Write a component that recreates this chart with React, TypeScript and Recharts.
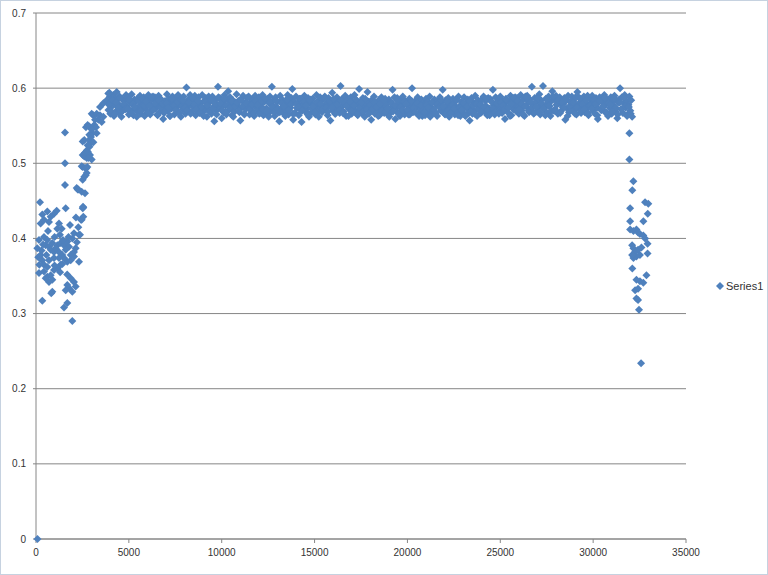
import { ScatterChart, Scatter, XAxis, YAxis, CartesianGrid, Legend } from 'recharts';

// values, [x, y]
const originPoint = [[80, 0]];

const lowCluster = [
  [215, .448], [1598, .440], [340, .432], [610, .436], [970, .433], [1113, .437], [790, .429],
  [250, .420], [700, .422], [1238, .420], [1830, .418], [2046, .407], [2316, .405], [1956, .400],
  [646, .410], [1148, .413], [160, .398], [72, .387], [431, .402], [610, .398], [520, .391],
  [700, .389], [880, .394], [790, .385], [969, .382], [1149, .391], [1328, .394], [1508, .391],
  [1687, .396], [1777, .389], [1598, .385], [1238, .382], [1059, .387], [1418, .378], [1867, .378],
  [2046, .382], [2136, .387], [251, .378], [341, .371], [431, .365], [700, .371], [610, .362],
  [969, .374], [1238, .374], [1508, .374], [1687, .369], [1867, .371], [2316, .369], [2046, .376],
  [162, .354], [431, .356], [610, .349], [790, .351], [969, .358], [1149, .360], [1328, .365],
  [880, .345], [700, .342], [520, .347], [1867, .347], [2046, .342], [1687, .338], [1777, .334],
  [2136, .336], [1598, .331], [1956, .329], [880, .329], [820, .327], [341, .317], [1687, .314],
  [1508, .308], [1956, .290], [1562, .471], [1562, .500], [1562, .541], [1382, .413], [1290, .405],
  [430, .425], [1450, .398], [1000, .402], [380, .392], [300, .384], [120, .375], [180, .365],
  [560, .378], [1680, .352], [1300, .355], [1000, .364], [1420, .366], [2200, .395], [2280, .415],
  [2150, .428], [1750, .402],
];

const riseSegment = [
  [2190, .467], [2280, .465], [2459, .462], [2639, .460], [2513, .440], [2549, .429], [2530, .442],
  [2370, .405], [2420, .425], [2548, .441], [2459, .425], [2244, .465], [2513, .478], [2600, .482],
  [2680, .484], [2728, .487], [2460, .496], [2513, .495], [2640, .494], [2700, .493], [2600, .509],
  [2513, .511], [2728, .507], [2800, .509], [2870, .511], [2640, .514], [2728, .517], [2800, .515],
  [2513, .529], [2600, .531], [2870, .531], [2960, .527], [2780, .524], [2870, .538], [2960, .535],
  [3050, .540], [2690, .548], [2780, .551], [2870, .549], [3050, .547], [3140, .551], [3230, .548],
  [2998, .566], [3088, .564], [3267, .566], [3446, .564], [3626, .562], [3357, .558], [3536, .555],
  [3446, .575], [3626, .580], [3806, .584], [3985, .589], [3895, .593], [4165, .591], [4344, .595],
  [3180, .558], [3000, .545], [3267, .540], [2880, .522], [3088, .528], [2765, .495], [3000, .505],
  [2908, .511], [2818, .507],
];

const plateauA = [
  [3900, .571], [3950, .594], [4000, .566], [4050, .583], [4100, .576], [4150, .588], [4200, .563], [4250, .579], [4300, .569], [4350, .585],
  [4400, .580], [4450, .567], [4500, .589], [4550, .574], [4600, .562], [4650, .586], [4700, .571], [4750, .583], [4800, .577], [4850, .591],
  [4900, .575], [4950, .588], [5000, .565], [5050, .581], [5100, .570], [5150, .592], [5200, .578], [5250, .564], [5300, .585], [5350, .573],
  [5400, .583], [5450, .569], [5500, .587], [5550, .576], [5600, .590], [5650, .566], [5700, .580], [5750, .572], [5800, .588], [5850, .563],
  [5900, .574], [5950, .586], [6000, .568], [6050, .591], [6100, .579], [6150, .565], [6200, .584], [6250, .571], [6300, .589], [6350, .577],
  [6400, .588], [6450, .573], [6500, .582], [6550, .564], [6600, .590], [6650, .577], [6700, .569], [6750, .585], [6800, .575], [6850, .559],
  [6900, .567], [6950, .583], [7000, .576], [7050, .592], [7100, .570], [7150, .586], [7200, .563], [7250, .580], [7300, .573], [7350, .589],
  [7400, .581], [7450, .565], [7500, .587], [7550, .574], [7600, .568], [7650, .591], [7700, .578], [7750, .584], [7800, .562], [7850, .576],
  [7900, .572], [7950, .589], [8000, .580], [8050, .566], [8100, .601], [8150, .575], [8200, .585], [8250, .569], [8300, .591], [8350, .577],
  [8400, .585], [8450, .570], [8500, .578], [8550, .590], [8600, .564], [8650, .582], [8700, .574], [8750, .588], [8800, .567], [8850, .580],
  [8900, .576], [8950, .591], [9000, .568], [9050, .583], [9100, .573], [9150, .587], [9200, .562], [9250, .579], [9300, .589], [9350, .571],
  [9400, .583], [9450, .566], [9500, .589], [9550, .575], [9600, .556], [9650, .584], [9700, .570], [9750, .578], [9800, .602], [9850, .573],
  [9900, .587], [9950, .574], [10000, .560], [10050, .582], [10100, .568], [10150, .591], [10200, .577], [10250, .565], [10300, .585], [10350, .596],
  [10400, .571], [10450, .588], [10500, .579], [10550, .564], [10600, .584], [10650, .573], [10700, .569], [10750, .581], [10800, .592], [10850, .577],
];

const plateauB = [
  [10900, .583], [10950, .568], [11000, .557], [11050, .586], [11100, .575], [11150, .590], [11200, .566], [11250, .580], [11300, .572], [11350, .587],
  [11400, .576], [11450, .589], [11500, .565], [11550, .581], [11600, .570], [11650, .585], [11700, .578], [11750, .563], [11800, .590], [11850, .574],
  [11900, .584], [11950, .571], [12000, .588], [12050, .567], [12100, .579], [12150, .575], [12200, .591], [12250, .564], [12300, .582], [12350, .569],
  [12400, .573], [12450, .586], [12500, .566], [12550, .580], [12600, .589], [12650, .570], [12700, .602], [12750, .577], [12800, .584], [12850, .563],
  [12900, .588], [12950, .575], [13000, .582], [13050, .568], [13100, .556], [13150, .590], [13200, .572], [13250, .585], [13300, .579], [13350, .566],
  [13400, .570], [13450, .584], [13500, .577], [13550, .591], [13600, .565], [13650, .581], [13700, .574], [13750, .587], [13800, .599], [13850, .558],
  [13900, .582], [13950, .567], [14000, .589], [14050, .574], [14100, .580], [14150, .564], [14200, .586], [14250, .571], [14300, .555], [14350, .578],
  [14400, .577], [14450, .590], [14500, .569], [14550, .583], [14600, .573], [14650, .587], [14700, .562], [14750, .580], [14800, .585], [14850, .568],
  [14900, .586], [14950, .572], [15000, .579], [15050, .565], [15100, .591], [15150, .576], [15200, .583], [15250, .570], [15300, .588], [15350, .574],
  [15400, .568], [15450, .585], [15500, .575], [15550, .589], [15600, .571], [15650, .580], [15700, .564], [15750, .587], [15800, .578], [15850, .557],
  [15900, .581], [15950, .594], [16000, .570], [16050, .584], [16100, .566], [16150, .578], [16200, .588], [16250, .573], [16300, .582], [16350, .567],
  [16400, .603], [16450, .575], [16500, .586], [16550, .569], [16600, .580], [16650, .590], [16700, .563], [16750, .577], [16800, .585], [16850, .572],
  [16900, .574], [16950, .588], [17000, .566], [17050, .581], [17100, .576], [17150, .591], [17200, .570], [17250, .584], [17300, .565], [17350, .579],
  [17400, .599], [17450, .571], [17500, .583], [17550, .567], [17600, .587], [17650, .575], [17700, .562], [17750, .580], [17800, .573], [17850, .595],
];

const plateauC = [
  [17900, .582], [17950, .569], [18000, .577], [18050, .558], [18100, .585], [18150, .572], [18200, .589], [18250, .566], [18300, .580], [18350, .575],
  [18400, .570], [18450, .584], [18500, .564], [18550, .578], [18600, .588], [18650, .573], [18700, .581], [18750, .567], [18800, .586], [18850, .576],
  [18900, .579], [18950, .566], [19000, .585], [19050, .572], [19100, .582], [19150, .569], [19200, .598], [19250, .576], [19300, .588], [19350, .559],
  [19400, .574], [19450, .587], [19500, .567], [19550, .580], [19600, .563], [19650, .584], [19700, .571], [19750, .589], [19800, .577], [19850, .565],
  [19900, .583], [19950, .570], [20000, .578], [20050, .565], [20100, .586], [20150, .573], [20200, .581], [20250, .600], [20300, .568], [20350, .576],
  [20400, .569], [20450, .584], [20500, .575], [20550, .588], [20600, .566], [20650, .579], [20700, .572], [20750, .585], [20800, .563], [20850, .581],
  [20900, .577], [20950, .564], [21000, .586], [21050, .571], [21100, .582], [21150, .568], [21200, .589], [21250, .574], [21300, .580], [21350, .566],
  [21400, .572], [21450, .585], [21500, .568], [21550, .579], [21600, .563], [21650, .583], [21700, .576], [21750, .588], [21800, .570], [21850, .581],
  [21900, .598], [21950, .573], [22000, .566], [22050, .584], [22100, .577], [22150, .569], [22200, .587], [22250, .562], [22300, .580], [22350, .575],
  [22400, .571], [22450, .586], [22500, .579], [22550, .565], [22600, .583], [22650, .574], [22700, .568], [22750, .589], [22800, .576], [22850, .563],
  [22900, .582], [22950, .569], [23000, .576], [23050, .588], [23100, .564], [23150, .580], [23200, .573], [23250, .585], [23300, .567], [23350, .557],
  [23400, .575], [23450, .587], [23500, .566], [23550, .581], [23600, .570], [23650, .590], [23700, .578], [23750, .563], [23800, .584], [23850, .572],
  [23900, .580], [23950, .567], [24000, .585], [24050, .574], [24100, .589], [24150, .569], [24200, .583], [24250, .576], [24300, .564], [24350, .587],
  [24400, .573], [24450, .586], [24500, .570], [24550, .582], [24600, .598], [24650, .577], [24700, .565], [24750, .588], [24800, .575], [24850, .580],
];

const plateauD = [
  [24900, .584], [24950, .571], [25000, .589], [25050, .576], [25100, .567], [25150, .583], [25200, .579], [25250, .559], [25300, .586], [25350, .574],
  [25400, .568], [25450, .582], [25500, .575], [25550, .590], [25600, .564], [25650, .585], [25700, .572], [25750, .580], [25800, .588], [25850, .577],
  [25900, .587], [25950, .574], [26000, .566], [26050, .581], [26100, .591], [26150, .570], [26200, .584], [26250, .577], [26300, .563], [26350, .589],
  [26400, .576], [26450, .590], [26500, .582], [26550, .568], [26600, .585], [26650, .573], [26700, .602], [26750, .579], [26800, .566], [26850, .587],
  [26900, .581], [26950, .569], [27000, .588], [27050, .575], [27100, .592], [27150, .565], [27200, .584], [27250, .578], [27300, .603], [27350, .572],
  [27400, .574], [27450, .586], [27500, .567], [27550, .580], [27600, .589], [27650, .576], [27700, .563], [27750, .583], [27800, .596], [27850, .570],
  [27900, .585], [27950, .572], [28000, .590], [28050, .578], [28100, .566], [28150, .583], [28200, .588], [28250, .569], [28300, .580], [28350, .575],
  [28400, .579], [28450, .587], [28500, .558], [28550, .584], [28600, .573], [28650, .590], [28700, .568], [28750, .582], [28800, .576], [28850, .589],
  [28900, .570], [28950, .583], [29000, .576], [29050, .588], [29100, .565], [29150, .595], [29200, .579], [29250, .572], [29300, .586], [29350, .567],
  [29400, .584], [29450, .575], [29500, .589], [29550, .568], [29600, .581], [29650, .573], [29700, .590], [29750, .564], [29800, .578], [29850, .586],
  [29900, .577], [29950, .590], [30000, .570], [30050, .583], [30100, .566], [30150, .587], [30200, .574], [30250, .559], [30300, .581], [30350, .588],
  [30400, .586], [30450, .571], [30500, .582], [30550, .575], [30600, .591], [30650, .568], [30700, .579], [30750, .585], [30800, .563], [30850, .580],
  [30900, .574], [30950, .588], [31000, .566], [31050, .583], [31100, .577], [31150, .590], [31200, .569], [31250, .584], [31300, .560], [31350, .581],
  [31400, .585], [31450, .600], [31500, .572], [31550, .588], [31600, .567], [31650, .580], [31700, .591], [31750, .574], [31800, .583], [31850, .565],
  [31900, .578], [31950, .589], [32000, .570], [32050, .584], [32100, .562],
];

// in-between samples of the plateau, core of the band
const plateauFill = [
  [3925, .578], [4025, .570], [4125, .584], [4225, .566], [4325, .581], [4425, .574], [4525, .587], [4625, .569], [4725, .579], [4825, .572],
  [4925, .572], [5025, .585], [5125, .567], [5225, .579], [5325, .575], [5425, .562], [5525, .583], [5625, .570], [5725, .586], [5825, .577],
  [5925, .582], [6025, .568], [6125, .576], [6225, .588], [6325, .571], [6425, .580], [6525, .565], [6625, .584], [6725, .574], [6825, .579],
  [6925, .569], [7025, .580], [7125, .574], [7225, .563], [7325, .586], [7425, .577], [7525, .571], [7625, .582], [7725, .567], [7825, .585],
  [7925, .584], [8025, .574], [8125, .570], [8225, .581], [8325, .566], [8425, .587], [8525, .578], [8625, .572], [8725, .583], [8825, .568],
  [8925, .575], [9025, .563], [9125, .582], [9225, .577], [9325, .569], [9425, .585], [9525, .573], [9625, .580], [9725, .565], [9825, .588],
  [9925, .580], [10025, .571], [10125, .586], [10225, .568], [10325, .578], [10425, .574], [10525, .583], [10625, .562], [10725, .576], [10825, .581],
  [10925, .570], [11025, .584], [11125, .576], [11225, .565], [11325, .580], [11425, .588], [11525, .572], [11625, .578], [11725, .567], [11825, .583],
  [11925, .578], [12025, .566], [12125, .583], [12225, .572], [12325, .586], [12425, .570], [12525, .562], [12625, .581], [12725, .575], [12825, .568],
  [12925, .583], [13025, .573], [13125, .568], [13225, .580], [13325, .576], [13425, .563], [13525, .585], [13625, .571], [13725, .578], [13825, .566],
  [13925, .567], [14025, .579], [14125, .575], [14225, .586], [14325, .570], [14425, .582], [14525, .577], [14625, .565], [14725, .584], [14825, .573],
  [14925, .576], [15025, .568], [15125, .581], [15225, .562], [15325, .579], [15425, .572], [15525, .587], [15625, .574], [15725, .569], [15825, .582],
  [15925, .574], [16025, .586], [16125, .566], [16225, .578], [16325, .571], [16425, .584], [16525, .567], [16625, .580], [16725, .576], [16825, .563],
  [16925, .582], [17025, .570], [17125, .577], [17225, .585], [17325, .564], [17425, .574], [17525, .581], [17625, .569], [17725, .586], [17825, .572],
  [17925, .566], [18025, .578], [18125, .572], [18225, .581], [18325, .575], [18425, .563], [18525, .579], [18625, .570], [18725, .584], [18825, .568],
  [18925, .573], [19025, .562], [19125, .580], [19225, .569], [19325, .577], [19425, .584], [19525, .566], [19625, .575], [19725, .571], [19825, .582],
  [19925, .579], [20025, .571], [20125, .565], [20225, .583], [20325, .574], [20425, .568], [20525, .580], [20625, .563], [20725, .577], [20825, .570],
  [20925, .568], [21025, .578], [21125, .574], [21225, .562], [21325, .581], [21425, .572], [21525, .566], [21625, .579], [21725, .575], [21825, .584],
  [21925, .576], [22025, .565], [22125, .582], [22225, .570], [22325, .567], [22425, .578], [22525, .573], [22625, .585], [22725, .564], [22825, .574],
  [22925, .571], [23025, .580], [23125, .563], [23225, .576], [23325, .583], [23425, .569], [23525, .577], [23625, .566], [23725, .579], [23825, .572],
  [23925, .578], [24025, .569], [24125, .575], [24225, .586], [24325, .571], [24425, .564], [24525, .582], [24625, .573], [24725, .568], [24825, .580],
  [24925, .566], [25025, .581], [25125, .577], [25225, .572], [25325, .585], [25425, .574], [25525, .563], [25625, .579], [25725, .587], [25825, .570],
  [25925, .583], [26025, .572], [26125, .579], [26225, .565], [26325, .576], [26425, .588], [26525, .570], [26625, .581], [26725, .574], [26825, .567],
  [26925, .575], [27025, .586], [27125, .568], [27225, .580], [27325, .573], [27425, .564], [27525, .584], [27625, .577], [27725, .570], [27825, .589],
  [27925, .570], [28025, .578], [28125, .584], [28225, .567], [28325, .581], [28425, .574], [28525, .586], [28625, .563], [28725, .576], [28825, .582],
  [28925, .581], [29025, .566], [29125, .574], [29225, .588], [29325, .570], [29425, .579], [29525, .572], [29625, .584], [29725, .567], [29825, .577],
  [29925, .573], [30025, .585], [30125, .579], [30225, .564], [30325, .583], [30425, .571], [30525, .576], [30625, .587], [30725, .568], [30825, .580],
  [30925, .578], [31025, .569], [31125, .586], [31225, .574], [31325, .565], [31425, .581], [31525, .572], [31625, .588], [31725, .576], [31825, .563],
  [31925, .575], [32025, .566],
];

const dropSegment = [
  [31950, .540], [31950, .505], [32165, .476], [32110, .464], [31990, .440], [32795, .448], [32970, .446],
  [32940, .433], [32705, .423], [31990, .423], [31990, .412], [32170, .410], [32330, .412], [32420, .408],
  [32520, .406], [32700, .404], [32800, .400], [32100, .391], [32170, .387], [32260, .382], [32420, .385],
  [32600, .388], [32520, .378], [32330, .376], [32170, .374], [32100, .378], [32930, .393], [32930, .380],
  [32110, .360], [32870, .351], [32700, .341], [32520, .343], [32330, .345], [32260, .331], [32420, .333],
  [32330, .320], [32420, .318], [32470, .305], [32580, .234],
];

const xTicks = [0, 5000, 10000, 15000, 20000, 25000, 30000, 35000];
const yTicks = [0, 0.1, 0.2, 0.3, 0.4, 0.5, 0.6, 0.7];

const MARKER = '#4F81BD';
const AXIS = '#868686';
const FONT = '"Liberation Sans", Arial, sans-serif';

const points = [
  ...originPoint,
  ...lowCluster,
  ...riseSegment,
  ...plateauA,
  ...plateauB,
  ...plateauC,
  ...plateauD,
  ...plateauFill,
  ...dropSegment,
].map(([x, y]) => ({ x, y }));

function Diamond(props: any) {
  const { cx, cy } = props;
  if (cx == null || cy == null) return null;
  const r = 4;
  return (
    <path
      d={`M${cx},${cy - r}L${cx + r},${cy}L${cx},${cy + r}L${cx - r},${cy}Z`}
      fill={MARKER}
    />
  );
}

function LegendBox() {
  return (
    <div style={{ display: 'flex', alignItems: 'center', fontFamily: FONT, fontSize: 11, color: '#333' }}>
      <svg width={8} height={8} style={{ marginRight: 2 }}>
        <path d="M4,0L8,4L4,8L0,4Z" fill={MARKER} />
      </svg>
      <span>Series1</span>
    </div>
  );
}

export default function App() {
  return (
    <div style={{ position: 'absolute', left: 0, top: 0, width: 768, height: 575, background: '#fff' }}>
      <ScatterChart width={768} height={575} margin={{ top: 13, right: 82, bottom: 0, left: 0 }}>
        <CartesianGrid horizontal vertical={false} stroke={AXIS} strokeWidth={1} />
        <XAxis
          type="number"
          dataKey="x"
          domain={[0, 35000]}
          ticks={xTicks}
          interval={0}
          height={36}
          tickSize={4}
          tickMargin={6}
          axisLine={{ stroke: AXIS }}
          tickLine={{ stroke: AXIS }}
          tick={{ fontSize: 10, fill: '#333', fontFamily: FONT }}
        />
        <YAxis
          type="number"
          dataKey="y"
          domain={[0, 0.7]}
          ticks={yTicks}
          interval={0}
          width={36}
          tickSize={3}
          tickMargin={7}
          axisLine={{ stroke: AXIS }}
          tickLine={{ stroke: AXIS }}
          tick={{ fontSize: 10, fill: '#333', fontFamily: FONT }}
        />
        <Legend
          layout="horizontal"
          align="center"
          verticalAlign="middle"
          wrapperStyle={{ left: 716, top: 280, width: 60 }}
          content={() => <LegendBox />}
        />
        <Scatter name="Series1" data={points} fill={MARKER} shape={Diamond} isAnimationActive={false} />
      </ScatterChart>
      <div
        style={{
          position: 'absolute',
          inset: 0,
          border: '1px solid #c6d2e0',
          pointerEvents: 'none',
        }}
      />
    </div>
  );
}
